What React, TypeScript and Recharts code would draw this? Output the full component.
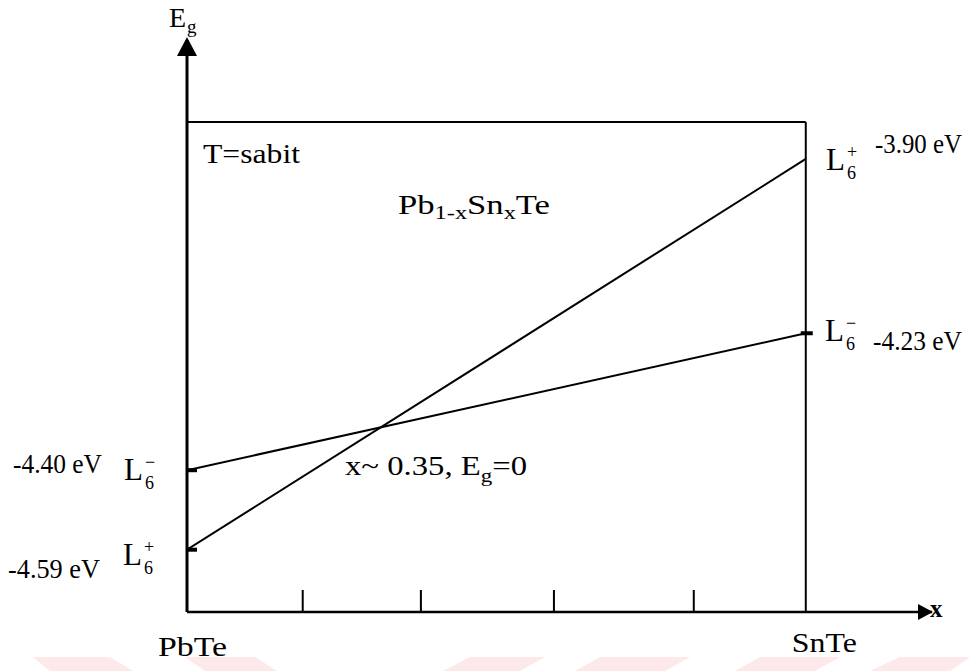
import React from "react";
import { LineChart, Line, XAxis, YAxis, ReferenceLine, ReferenceDot } from "recharts";

// composition x : 0 = PbTe, 1 = SnTe
const composition = [0, 1];
const endLabels = ["PbTe", "SnTe"];
// band edge energies (eV)
const l6Plus = [-4.59, -3.9];
const l6Minus = [-4.4, -4.23];
// small marks along the x axis
const xTicks = [0, 0.187, 0.378, 0.593, 0.819, 1];
const crossingNote = { x: "0.35", eg: "0" };

const data = composition.map((x, i) => ({ x, plus: l6Plus[i], minus: l6Minus[i] }));

const X_MAX = 1.204;
const PLUS_DOMAIN: [number, number] = [-4.7, -3.69];
const MINUS_DOMAIN: [number, number] = [-4.576, -3.866];
const BOX_TOP = -3.835;

const font = { fontFamily: "'Liberation Serif', 'Times New Roman', serif" };

const fmt = (v: number) => `${v.toFixed(2)} eV`;

const XTick = (props: any) => {
  const { x, y, payload } = props;
  const i = composition.indexOf(payload.value);
  if (i === 0)
    return (
      <text x={x - 29} y={y + 44} fontSize={28} style={font} textLength={69} lengthAdjust="spacingAndGlyphs">
        {endLabels[0]}
      </text>
    );
  if (i === 1)
    return (
      <text x={x - 14} y={y + 40} fontSize={27} style={font} textLength={65} lengthAdjust="spacingAndGlyphs">
        {endLabels[1]}
      </text>
    );
  return <line x1={x} x2={x} y1={y} y2={y - 22} stroke="#000" strokeWidth={2} />;
};

const endDash = (withRight: boolean) => (props: any) => {
  const { cx, cy, index } = props;
  if (index === 0)
    return <line key={`d${index}`} x1={cx - 8} x2={cx + 10} y1={cy} y2={cy} stroke="#000" strokeWidth={4} />;
  if (withRight && index === data.length - 1)
    return <line key={`d${index}`} x1={cx - 5} x2={cx + 7} y1={cy} y2={cy} stroke="#000" strokeWidth={4} />;
  return <g key={`d${index}`} />;
};

const upArrow = (p: any) => (
  <polygon points={`${p.cx},${p.cy - 3} ${p.cx - 10},${p.cy + 16} ${p.cx + 10},${p.cy + 16}`} fill="#000" />
);
const rightArrow = (p: any) => (
  <polygon points={`${p.cx + 1},${p.cy} ${p.cx - 14},${p.cy - 8} ${p.cx - 14},${p.cy + 8}`} fill="#000" />
);

// band name L6 with a sign above and the 6 below
const BandName = ({ x, y, sign }: { x: number; y: number; sign: string }) => (
  <g style={font}>
    <text x={x} y={y} fontSize={31}>L</text>
    <text x={x + 21} y={y - 12} fontSize={18}>{sign}</text>
    <text x={x + 21} y={y + 9} fontSize={18}>6</text>
  </g>
);

const EnergyText = ({ x, y, w, value }: { x: number; y: number; w: number; value: number }) => (
  <text x={x} y={y} fontSize={27} style={font} textLength={w} lengthAdjust="spacingAndGlyphs">
    {fmt(value)}
  </text>
);

const stripes = [
  [33, 110, 50, 133],
  [185, 255, 205, 277],
  [470, 545, 443, 520],
  [600, 690, 575, 665],
  [760, 840, 735, 815],
  [900, 970, 870, 950],
];

export default function App() {
  return (
    <div style={{ position: "absolute", left: 0, top: 0, width: 970, height: 671, background: "#fff" }}>
      <svg width={970} height={671} style={{ position: "absolute", left: 0, top: 0 }}>
        {stripes.map(([a, b, c, d], i) => (
          <polygon key={i} points={`${a},657 ${b},657 ${d},671 ${c},671`} fill="#fde8ea" />
        ))}
      </svg>
      <LineChart
        width={970}
        height={671}
        data={data}
        margin={{ top: 40, right: 38, left: 187, bottom: 14 }}
        style={{ position: "absolute", left: 0, top: 0 }}
      >
        <XAxis
          dataKey="x"
          type="number"
          domain={[0, X_MAX]}
          ticks={xTicks}
          allowDataOverflow
          height={45}
          tickLine={false}
          tickSize={0}
          tickMargin={0}
          axisLine={{ stroke: "#000", strokeWidth: 2.5 }}
          tick={<XTick />}
        />
        <YAxis yAxisId="plus" hide domain={PLUS_DOMAIN} allowDataOverflow />
        <YAxis yAxisId="minus" hide domain={MINUS_DOMAIN} allowDataOverflow />

        <ReferenceLine yAxisId="plus" x={0} stroke="#000" strokeWidth={3} />
        <ReferenceLine
          yAxisId="plus"
          segment={[{ x: 0, y: BOX_TOP }, { x: 1, y: BOX_TOP }]}
          stroke="#000"
          strokeWidth={2}
        />
        <ReferenceLine
          yAxisId="plus"
          segment={[{ x: 1, y: PLUS_DOMAIN[0] }, { x: 1, y: BOX_TOP }]}
          stroke="#000"
          strokeWidth={2}
        />
        <ReferenceDot yAxisId="plus" x={0} y={PLUS_DOMAIN[1]} ifOverflow="visible" shape={upArrow} />
        <ReferenceDot yAxisId="plus" x={X_MAX} y={PLUS_DOMAIN[0]} ifOverflow="visible" shape={rightArrow} />

        <Line
          yAxisId="plus"
          dataKey="plus"
          stroke="#000"
          strokeWidth={2}
          dot={endDash(false)}
          isAnimationActive={false}
        />
        <Line
          yAxisId="minus"
          dataKey="minus"
          stroke="#000"
          strokeWidth={2}
          dot={endDash(true)}
          isAnimationActive={false}
        />

        <g style={font}>
          <text x={169} y={27} fontSize={28}>E</text>
          <text x={187} y={33} fontSize={19}>g</text>
          <text x={930} y={617} fontSize={25} fontWeight="bold">x</text>

          <text x={203} y={163} fontSize={27} textLength={97} lengthAdjust="spacingAndGlyphs">
            T=sabit
          </text>
          <text x={398} y={214} fontSize={27} textLength={152} lengthAdjust="spacingAndGlyphs">
            Pb<tspan fontSize={19} dy={5}>1-x</tspan>
            <tspan dy={-5}>Sn</tspan>
            <tspan fontSize={19} dy={5}>x</tspan>
            <tspan dy={-5}>Te</tspan>
          </text>
          <text x={345} y={475} fontSize={27} textLength={182} lengthAdjust="spacingAndGlyphs">
            x~ {crossingNote.x}, E<tspan fontSize={19} dy={7}>g</tspan>
            <tspan dy={-7}>={crossingNote.eg}</tspan>
          </text>
        </g>

        <EnergyText x={13} y={473} w={89} value={l6Minus[0]} />
        <BandName x={124} y={480} sign="−" />
        <EnergyText x={8} y={578} w={92} value={l6Plus[0]} />
        <BandName x={123} y={565} sign="+" />

        <BandName x={826} y={170} sign="+" />
        <EnergyText x={875} y={153} w={87} value={l6Plus[1]} />
        <BandName x={825} y={341} sign="−" />
        <EnergyText x={873} y={350} w={89} value={l6Minus[1]} />
      </LineChart>
    </div>
  );
}
